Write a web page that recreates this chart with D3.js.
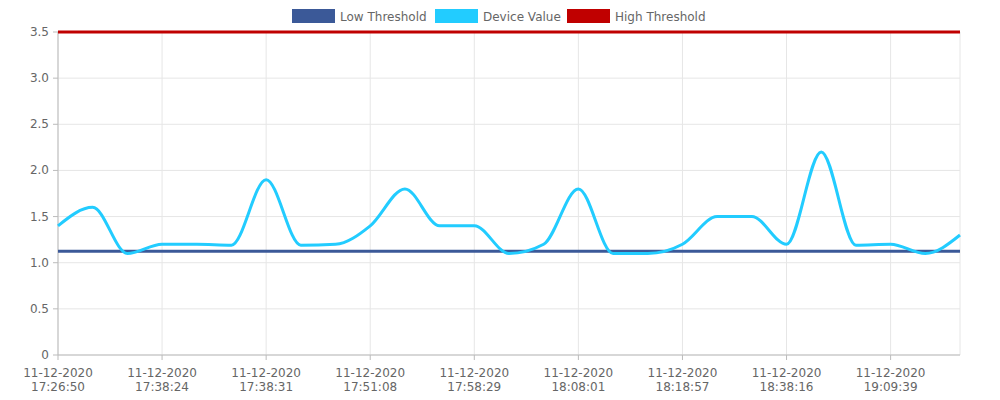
<!DOCTYPE html>
<html><head><meta charset="utf-8">
<script src="https://cdn.jsdelivr.net/npm/d3@7"></script>
<style>body{margin:0;background:#fff}text{font-family:"DejaVu Sans",sans-serif}</style>
</head><body><svg id="c" width="1000" height="400"></svg>
<script>
const deviceValues=[1.4,1.6,1.1,1.2,1.2,1.19,1.9,1.19,1.2,1.4,1.8,1.4,1.4,1.1,1.2,1.8,1.1,1.1,1.2,1.5,1.5,1.2,2.2,1.19,1.2,1.1,1.3];
const lowThreshold=1.125, highThreshold=3.5;
const tickLabels=["11-12-2020 17:26:50","11-12-2020 17:38:24","11-12-2020 17:38:31","11-12-2020 17:51:08","11-12-2020 17:58:29","11-12-2020 18:08:01","11-12-2020 18:18:57","11-12-2020 18:38:16","11-12-2020 19:09:39"];
const yTicks=[0,0.5,1,1.5,2,2.5,3,3.5];
const series=[{name:"Low Threshold",color:"#3b5998"},{name:"Device Value",color:"#22ccff"},{name:"High Threshold",color:"#c00000"}];

const svg=d3.select("#c");
const L=58,R=960,T=32,B=355;
const x=d3.scaleLinear().domain([0,deviceValues.length-1]).range([L,R]);
const y=d3.scaleLinear().domain([0,3.5]).range([B,T]);
const g=svg.append("g");
// grid
g.selectAll(".gy").data(yTicks).join("line").attr("x1",L).attr("x2",R).attr("y1",d=>y(d)).attr("y2",d=>y(d)).attr("stroke","#e6e6e6");
const xt=d3.range(0,deviceValues.length,3);
g.selectAll(".gx").data(xt.concat([deviceValues.length-1])).join("line").attr("x1",d=>x(d)).attr("x2",d=>x(d)).attr("y1",T).attr("y2",B).attr("stroke","#e6e6e6");
// axes
g.append("line").attr("x1",L).attr("x2",L).attr("y1",T).attr("y2",B).attr("stroke","#bbb");
g.append("line").attr("x1",L).attr("x2",R).attr("y1",B).attr("y2",B).attr("stroke","#bbb");
g.selectAll(".ty").data(yTicks).join("line").attr("x1",L-5).attr("x2",L).attr("y1",d=>y(d)).attr("y2",d=>y(d)).attr("stroke","#bbb");
g.selectAll(".tyl").data(yTicks).join("text").attr("x",L-9).attr("y",d=>y(d)+4).attr("text-anchor","end").attr("font-size",12).attr("fill","#666").text(d=>d===0?"0":d.toFixed(1));
g.selectAll(".tx").data(xt).join("line").attr("x1",d=>x(d)).attr("x2",d=>x(d)).attr("y1",B).attr("y2",B+5).attr("stroke","#bbb");
const xl=g.selectAll(".txl").data(xt).join("text").attr("text-anchor","middle").attr("font-size",12).attr("fill","#666");
xl.each(function(d,i){const parts=tickLabels[i].split(" ");const t=d3.select(this);
 t.append("tspan").attr("x",x(d)).attr("y",377).text(parts[0]);
 t.append("tspan").attr("x",x(d)).attr("y",391).text(parts[1]);});
// lines
g.append("line").attr("x1",L).attr("x2",R).attr("y1",y(lowThreshold)).attr("y2",y(lowThreshold)).attr("stroke",series[0].color).attr("stroke-width",3);
g.append("line").attr("x1",L).attr("x2",R).attr("y1",y(highThreshold)).attr("y2",y(highThreshold)).attr("stroke",series[2].color).attr("stroke-width",3);
g.append("path").datum(deviceValues).attr("fill","none").attr("stroke",series[1].color).attr("stroke-width",3)
 .attr("d",d3.line().x((d,i)=>x(i)).y(d=>y(d)).curve(d3.curveMonotoneX));
// legend
const lx=[292,435,567];
series.forEach((s,i)=>{
 svg.append("rect").attr("x",lx[i]).attr("y",9).attr("width",43).attr("height",14).attr("fill",s.color);
 svg.append("text").attr("x",lx[i]+48).attr("y",20.5).attr("font-size",12).attr("fill","#666").text(s.name);
});
</script></body></html>
